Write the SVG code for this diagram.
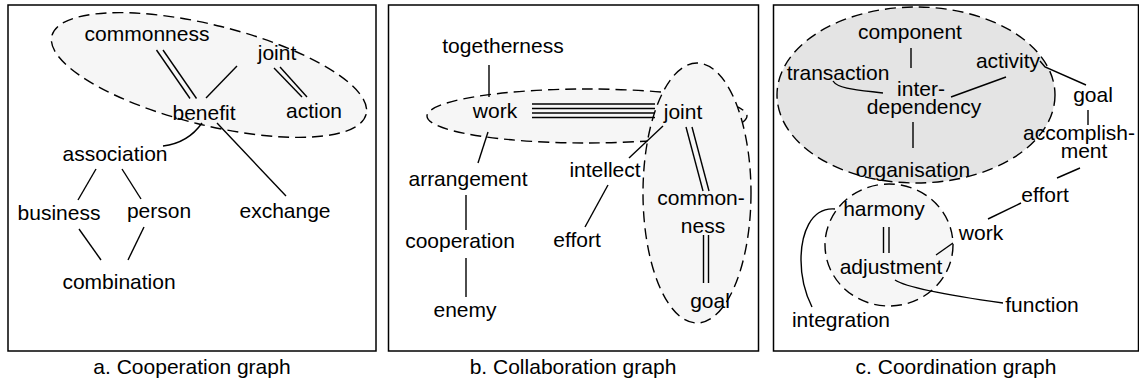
<svg xmlns="http://www.w3.org/2000/svg" width="1139" height="380" viewBox="0 0 1139 380">
  <style>
    .frame { fill: #ffffff; stroke: #000000; stroke-width: 1.5; }
    .cluster { fill: #f6f6f6; stroke: #000000; stroke-width: 1.4; stroke-dasharray: 11 6; }
    .cluster.dark { fill: #e4e4e4; }
    .edge { fill: none; stroke: #000000; stroke-width: 1.4; }
    text { font-family: "Liberation Sans", Arial, sans-serif; font-size: 21px; fill: #000000; text-anchor: middle; }
  </style>

  <rect width="1139" height="380" fill="#ffffff"/>

  <!-- panel frames -->
  <g id="frames">
    <rect class="frame" x="8" y="5" width="368" height="346"/>
    <rect class="frame" x="388.5" y="5" width="370" height="346"/>
    <rect class="frame" x="773.5" y="5" width="365" height="346"/>
  </g>

  <!-- dashed clusters -->
  <g id="clusters">
    <ellipse class="cluster" cx="209" cy="75" rx="162" ry="50" transform="rotate(14 209 75)"/>
    <ellipse class="cluster" cx="587" cy="116" rx="160" ry="27"/>
    <ellipse class="cluster" cx="697" cy="193" rx="54" ry="130"/>
    <ellipse class="cluster dark" cx="916" cy="95" rx="139" ry="88"/>
    <ellipse class="cluster" cx="889" cy="245" rx="64" ry="61"/>
  </g>

  <!-- connectors -->
  <g id="connectors">
    <!-- a. cooperation -->
    <line class="edge" x1="156.5" y1="50" x2="190" y2="98.5"/>
    <line class="edge" x1="163" y1="50" x2="196.5" y2="98.5"/>
    <line class="edge" x1="237" y1="66" x2="206" y2="98"/>
    <line class="edge" x1="274" y1="68" x2="302" y2="97"/>
    <line class="edge" x1="280" y1="67" x2="307" y2="97"/>
    <path class="edge" d="M202,123 Q188,143 163,146"/>
    <line class="edge" x1="217" y1="123" x2="286" y2="196"/>
    <line class="edge" x1="96" y1="169" x2="78" y2="200"/>
    <line class="edge" x1="122" y1="169" x2="141" y2="199"/>
    <line class="edge" x1="79" y1="229" x2="101" y2="260"/>
    <line class="edge" x1="144" y1="227" x2="128" y2="260"/>

    <!-- b. collaboration -->
    <line class="edge" x1="489" y1="65" x2="489" y2="97"/>
    <line class="edge" x1="532" y1="104" x2="655" y2="104"/>
    <line class="edge" x1="532" y1="108.5" x2="655" y2="108.5"/>
    <line class="edge" x1="532" y1="113" x2="655" y2="113"/>
    <line class="edge" x1="532" y1="117.5" x2="655" y2="117.5"/>
    <line class="edge" x1="663" y1="126" x2="629" y2="158"/>
    <line class="edge" x1="686" y1="127" x2="703" y2="191"/>
    <line class="edge" x1="692" y1="127" x2="709" y2="191"/>
    <line class="edge" x1="703.5" y1="235" x2="703.5" y2="283"/>
    <line class="edge" x1="708.5" y1="235" x2="708.5" y2="283"/>
    <line class="edge" x1="608" y1="185" x2="585" y2="227"/>
    <line class="edge" x1="488" y1="132" x2="478" y2="163"/>
    <line class="edge" x1="466" y1="195" x2="466" y2="230"/>
    <line class="edge" x1="466" y1="258" x2="466" y2="297"/>

    <!-- c. coordination -->
    <line class="edge" x1="911" y1="48" x2="911" y2="68"/>
    <path class="edge" d="M833,81 C838,89 858,90 883,93"/>
    <line class="edge" x1="1006" y1="77" x2="951" y2="97"/>
    <line class="edge" x1="913" y1="122" x2="913" y2="148"/>
    <path class="edge" d="M1040,61 L1045,67 L1086,85"/>
    <line class="edge" x1="1088" y1="110" x2="1088" y2="125"/>
    <line class="edge" x1="1080" y1="168" x2="1057" y2="178"/>
    <line class="edge" x1="1021" y1="203" x2="988" y2="219"/>
    <line class="edge" x1="883.5" y1="227" x2="883.5" y2="253"/>
    <line class="edge" x1="889" y1="227" x2="889" y2="253"/>
    <line class="edge" x1="936" y1="255" x2="953" y2="243"/>
    <path class="edge" d="M895,280 Q910,290 1003,303"/>
    <path class="edge" d="M835,209 C810,207 801,235 801,260 C801,280 806,295 812,307"/>
  </g>

  <!-- a. cooperation nodes -->
  <g id="a-commonness"><text x="147" y="41">commonness</text></g>
  <g id="a-joint"><text x="277" y="60">joint</text></g>
  <g id="a-benefit"><text x="204" y="120">benefit</text></g>
  <g id="a-action"><text x="314" y="118">action</text></g>
  <g id="a-association"><text x="115" y="161">association</text></g>
  <g id="a-business"><text x="59" y="220">business</text></g>
  <g id="a-person"><text x="159" y="218">person</text></g>
  <g id="a-exchange"><text x="285" y="218">exchange</text></g>
  <g id="a-combination"><text x="119" y="289">combination</text></g>

  <!-- b. collaboration nodes -->
  <g id="b-togetherness"><text x="503" y="53">togetherness</text></g>
  <g id="b-work"><text x="495" y="118">work</text></g>
  <g id="b-joint"><text x="683" y="119">joint</text></g>
  <g id="b-intellect"><text x="605" y="177">intellect</text></g>
  <g id="b-arrangement"><text x="468" y="186">arrangement</text></g>
  <g id="b-commonness"><text x="701" y="205">common-<tspan x="703" y="233">ness</tspan></text></g>
  <g id="b-effort"><text x="577" y="247">effort</text></g>
  <g id="b-cooperation"><text x="460" y="248">cooperation</text></g>
  <g id="b-goal"><text x="710" y="308">goal</text></g>
  <g id="b-enemy"><text x="465" y="317">enemy</text></g>

  <!-- c. coordination nodes -->
  <g id="c-component"><text x="910" y="39">component</text></g>
  <g id="c-transaction"><text x="838" y="80">transaction</text></g>
  <g id="c-activity"><text x="1008" y="68">activity</text></g>
  <g id="c-interdependency"><text x="921" y="96">inter-<tspan x="924" y="114">dependency</tspan></text></g>
  <g id="c-organisation"><text x="913" y="177">organisation</text></g>
  <g id="c-goal"><text x="1093" y="102">goal</text></g>
  <g id="c-accomplishment"><text x="1079" y="140">accomplish-<tspan x="1084" y="158">ment</tspan></text></g>
  <g id="c-effort"><text x="1045" y="202">effort</text></g>
  <g id="c-harmony"><text x="884" y="216">harmony</text></g>
  <g id="c-work"><text x="981" y="240">work</text></g>
  <g id="c-adjustment"><text x="891" y="274">adjustment</text></g>
  <g id="c-function"><text x="1042" y="312">function</text></g>
  <g id="c-integration"><text x="841" y="327">integration</text></g>

  <!-- captions -->
  <g id="captions">
    <text x="192" y="374">a. Cooperation graph</text>
    <text x="573" y="374">b. Collaboration graph</text>
    <text x="956" y="374">c. Coordination graph</text>
  </g>
</svg>
